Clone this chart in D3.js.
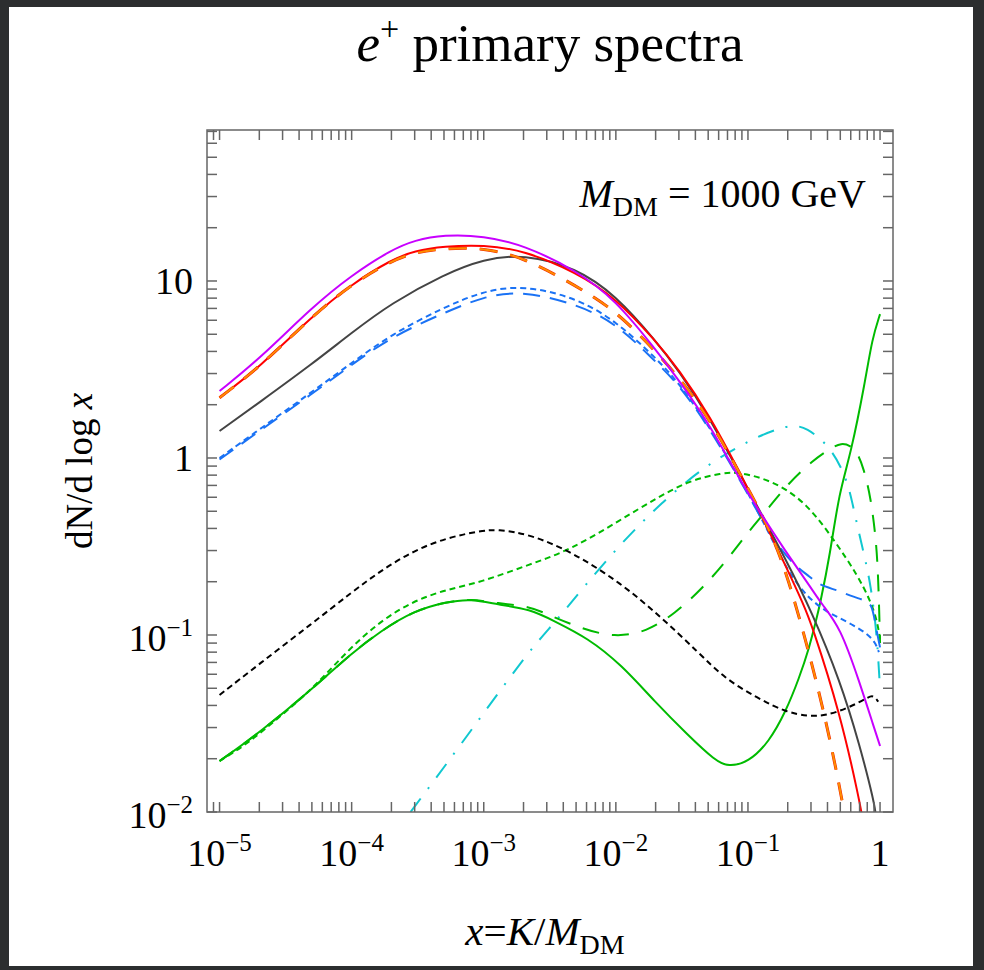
<!DOCTYPE html>
<html>
<head>
<meta charset="utf-8">
<script src="https://cdn.jsdelivr.net/npm/d3@7"></script>
<style>
  body { margin: 0; background: #2c2e2f; }
  svg { display: block; }
</style>
</head>
<body>
<svg id="figure"></svg>
<script>
// ---- data (x = K/M_DM, y = dN/dlog x) ----
const magentaX = [1e-5, 2e-5, 5e-5, 1e-4, 2e-4, 3e-4, 5e-4, 1e-3, 2e-3, 5e-3, 1e-2, 2e-2, 3e-2, 5e-2, 0.1, 0.2, 0.3, 0.36, 0.5, 0.7, 0.9, 1];
const magentaY = [2.39, 3.62, 7.1, 10.8, 15.0, 17.0, 18.25, 18.0, 16.0, 11.5, 7.8, 4.1, 2.75, 1.6, 0.62, 0.285, 0.185, 0.15, 0.111, 0.054, 0.030, 0.0236];

const redX = [1e-5, 2e-5, 5e-5, 1e-4, 2e-4, 3e-4, 5e-4, 1e-3, 2e-3, 5e-3, 1e-2, 2e-2, 3e-2, 5e-2, 0.1, 0.2, 0.265, 0.3, 0.5, 0.7, 0.73];
const redY = [2.19, 3.25, 6.3, 9.6, 13.2, 14.8, 15.7, 16.0, 14.9, 11.2, 8.0, 4.6, 3.15, 1.8, 0.68, 0.233, 0.147, 0.118, 0.036, 0.0115, 0.0095];

const orangeX = [1e-5, 2e-5, 5e-5, 1e-4, 2e-4, 3e-4, 5e-4, 1e-3, 2e-3, 5e-3, 1e-2, 2e-2, 3e-2, 5e-2, 0.1, 0.15, 0.2, 0.3, 0.4, 0.5, 0.54];
const orangeY = [2.19, 3.25, 6.3, 9.6, 13.0, 14.5, 15.3, 15.4, 13.6, 9.4, 6.8, 4.0, 2.85, 1.72, 0.68, 0.377, 0.215, 0.073, 0.030, 0.0133, 0.0095];

const grayX = [1e-5, 2e-5, 5e-5, 1e-4, 2e-4, 5e-4, 1e-3, 2e-3, 5e-3, 1e-2, 2e-2, 3e-2, 5e-2, 0.1, 0.2, 0.3, 0.5, 0.7, 0.9, 0.93];
const grayY = [1.42, 2.06, 3.39, 5.1, 7.5, 10.9, 13.3, 14.2, 11.9, 8.3, 4.6, 3.1, 1.75, 0.67, 0.255, 0.138, 0.055, 0.024, 0.0115, 0.0095];

const blueDotX = [1e-5, 2e-5, 5e-5, 1e-4, 2e-4, 5e-4, 1e-3, 2e-3, 5e-3, 1e-2, 2e-2, 3e-2, 5e-2, 0.1, 0.15, 0.2, 0.26, 0.31, 0.39, 0.5, 0.63, 0.8, 0.92, 0.98];
const blueDotY = [1.0, 1.45, 2.36, 3.44, 5.0, 7.1, 8.8, 9.46, 8.05, 5.94, 3.69, 2.65, 1.55, 0.64, 0.356, 0.23, 0.177, 0.155, 0.136, 0.124, 0.1135, 0.1016, 0.091, 0.08];

const blueDashX = [1e-5, 2e-5, 5e-5, 1e-4, 2e-4, 5e-4, 1e-3, 2e-3, 5e-3, 1e-2, 2e-2, 3e-2, 5e-2, 0.1, 0.15, 0.22, 0.28, 0.35, 0.47, 0.6, 0.75, 0.87, 0.92, 1];
const blueDashY = [0.98, 1.42, 2.3, 3.36, 4.85, 6.6, 8.2, 8.8, 7.4, 5.8, 3.5, 2.6, 1.52, 0.63, 0.356, 0.25, 0.22, 0.19, 0.18, 0.166, 0.158, 0.15, 0.115, 0.085];

const blackDotX = [1e-5, 2e-5, 5e-5, 1e-4, 1.65e-4, 2.95e-4, 5.3e-4, 9.4e-4, 1.26e-3, 2.25e-3, 4.6e-3, 1.1e-2, 2.2e-2, 4.2e-2, 6.6e-2, 0.119, 0.192, 0.29, 0.39, 0.56, 0.8, 0.88, 0.97];
const blackDotY = [0.0458, 0.0686, 0.116, 0.174, 0.23, 0.30, 0.355, 0.387, 0.396, 0.37, 0.296, 0.196, 0.126, 0.08, 0.057, 0.0439, 0.0367, 0.0347, 0.0351, 0.0384, 0.044, 0.046, 0.042];

const greenDotX = [1e-5, 1.62e-5, 2.89e-5, 5.16e-5, 9.2e-5, 1.65e-4, 2.95e-4, 5.27e-4, 9.4e-4, 2.25e-3, 4.56e-3, 1.1e-2, 1.98e-2, 3.56e-2, 6.4e-2, 8.6e-2, 0.154, 0.277, 0.46, 0.67, 0.85, 0.95, 1];
const greenDotY = [0.0194, 0.0242, 0.0348, 0.0503, 0.081, 0.12, 0.156, 0.181, 0.198, 0.251, 0.303, 0.45, 0.586, 0.745, 0.824, 0.832, 0.745, 0.561, 0.335, 0.22, 0.155, 0.12, 0.095];

const greenX = [1e-5, 2e-5, 5e-5, 1e-4, 1.65e-4, 2.95e-4, 5.27e-4, 8e-4, 1.26e-3, 2.25e-3, 3.4e-3, 6.1e-3, 1.1e-2, 1.97e-2, 3.53e-2, 5.65e-2, 7.1e-2, 0.101, 0.144, 0.193, 0.244, 0.291, 0.327, 0.35, 0.42, 0.49, 0.6, 0.773, 0.87, 1];
const greenY = [0.0194, 0.028, 0.0493, 0.079, 0.105, 0.137, 0.154, 0.16, 0.149, 0.14, 0.12, 0.0964, 0.068, 0.042, 0.0271, 0.0195, 0.018, 0.0191, 0.0248, 0.0368, 0.057, 0.0845, 0.12, 0.147, 0.29, 0.64, 1.05, 2.72, 4.7, 6.5];

const greenDashX = [1e-5, 2e-5, 5e-5, 1e-4, 1.65e-4, 2.95e-4, 5.27e-4, 8e-4, 1.26e-3, 2.25e-3, 3.0e-3, 5.6e-3, 9.8e-3, 1.7e-2, 2.8e-2, 4.5e-2, 6.8e-2, 9.9e-2, 0.141, 0.2, 0.31, 0.42, 0.51, 0.6, 0.67, 0.75, 0.85, 0.93, 0.96, 0.98, 1];
const greenDashY = [0.0194, 0.028, 0.0493, 0.079, 0.105, 0.137, 0.154, 0.16, 0.151, 0.145, 0.131, 0.108, 0.097, 0.104, 0.132, 0.183, 0.26, 0.377, 0.514, 0.713, 0.97, 1.13, 1.22, 1.17, 1.08, 0.88, 0.6, 0.35, 0.24, 0.16, 0.09];

const cyanX = [2.79e-4, 4.98e-4, 9.4e-4, 2.25e-3, 3.4e-3, 5.66e-3, 1.1e-2, 2.22e-2, 4.76e-2, 0.108, 0.204, 0.277, 0.43, 0.56, 0.62, 0.68, 0.77, 0.85, 0.92, 0.96, 0.99];
const cyanY = [0.01, 0.0178, 0.034, 0.083, 0.116, 0.185, 0.331, 0.561, 0.907, 1.29, 1.55, 1.5, 1.14, 0.76, 0.55, 0.4, 0.27, 0.19, 0.12, 0.083, 0.056];

// tick labels
const xTickValues = [1e-5, 1e-4, 1e-3, 1e-2, 1e-1, 1];
const xTickExps = ["\u22125", "\u22124", "\u22123", "\u22122", "\u22121", ""];
const yTickValues = [0.01, 0.1, 1, 10];
const yTickBases = ["10", "10", "1", "10"];
const yTickExps = ["\u22122", "\u22121", "", ""];

// ---- layout ----
const W = 984, H = 970;
const frame = {left: 207, right: 893, top: 130, bottom: 812};
const serif = '"Liberation Serif", "Times New Roman", serif';

const svg = d3.select("#figure").attr("width", W).attr("height", H);

svg.append("rect").attr("width", W).attr("height", H).attr("fill", "#2c2e2f");
svg.append("rect").attr("x", 9).attr("y", 7).attr("width", 964).attr("height", 959).attr("fill", "#fff");

const x = d3.scaleLog()
    .domain([Math.pow(10, -5.095), Math.pow(10, 0.098)])
    .range([frame.left, frame.right]);
const y = d3.scaleLog()
    .domain([0.01, Math.pow(10, 1.853)])
    .range([frame.bottom, frame.top]);

svg.append("clipPath").attr("id", "plotClip")
    .append("rect")
    .attr("x", frame.left).attr("y", frame.top)
    .attr("width", frame.right - frame.left).attr("height", frame.bottom - frame.top);

// series: drawn bottom to top
const series = [
    {xs: cyanX, ys: cyanY, color: "#10c8d0", dash: "17,12,2,12", width: 2},
    {xs: greenDashX, ys: greenDashY, color: "#00bb00", dash: "17,13", width: 2},
    {xs: greenDotX, ys: greenDotY, color: "#00bb00", dash: "6,4", width: 2},
    {xs: greenX, ys: greenY, color: "#00bb00", dash: null, width: 2},
    {xs: blackDotX, ys: blackDotY, color: "#000", dash: "6,4", width: 2},
    {xs: blueDashX, ys: blueDashY, color: "#1a72f5", dash: "17,10", width: 2},
    {xs: blueDotX, ys: blueDotY, color: "#1a72f5", dash: "6,4", width: 2},
    {xs: grayX, ys: grayY, color: "#444", dash: null, width: 2},
    {xs: redX, ys: redY, color: "#f00", dash: null, width: 2},
    {xs: orangeX, ys: orangeY, color: "#ee2200", dash: "18,13", width: 3},
    {xs: orangeX, ys: orangeY, color: "#ff8c00", dash: "18,13", width: 2},
    {xs: magentaX, ys: magentaY, color: "#c800ff", dash: null, width: 2}
];

// B-spline through the read points, to smooth out reading noise
const line = d3.line()
    .x(d => x(d[0]))
    .y(d => y(d[1]))
    .curve(d3.curveBasis);

const plot = svg.append("g").attr("clip-path", "url(#plotClip)");
plot.selectAll("path.curve")
    .data(series)
    .enter().append("path")
    .attr("class", "curve")
    .attr("d", s => line(d3.zip(s.xs, s.ys)))
    .attr("fill", "none")
    .attr("stroke", s => s.color)
    .attr("stroke-width", s => s.width)
    .attr("stroke-dasharray", s => s.dash)
    .attr("stroke-linejoin", "round");

// ---- frame & ticks (inward, on all four sides) ----
function logTicks(lo, hi) {
    const out = [];
    for (let e = -7; e <= 2; e++) {
        for (let m = 1; m <= 9; m++) {
            const v = m * Math.pow(10, e);
            if (v >= lo * 0.9999 && v <= hi * 1.0001) out.push({v: v, major: m === 1});
        }
    }
    return out;
}
const tickLen = 10;
const axisColor = "#666";
const ax = svg.append("g").attr("stroke", axisColor).attr("stroke-width", 1.5);

ax.append("rect")
    .attr("x", frame.left).attr("y", frame.top)
    .attr("width", frame.right - frame.left).attr("height", frame.bottom - frame.top)
    .attr("fill", "none");

logTicks(x.domain()[0], x.domain()[1]).forEach(t => {
    const px = x(t.v);
    ax.append("line").attr("x1", px).attr("x2", px).attr("y1", frame.bottom).attr("y2", frame.bottom - tickLen);
    ax.append("line").attr("x1", px).attr("x2", px).attr("y1", frame.top).attr("y2", frame.top + tickLen);
});
logTicks(y.domain()[0], y.domain()[1]).forEach(t => {
    const py = y(t.v);
    ax.append("line").attr("y1", py).attr("y2", py).attr("x1", frame.left).attr("x2", frame.left + tickLen);
    ax.append("line").attr("y1", py).attr("y2", py).attr("x1", frame.right).attr("x2", frame.right - tickLen);
});

// ---- tick labels ----
const labelSize = 38;
xTickValues.forEach((v, i) => {
    const t = svg.append("text")
        .attr("x", x(v)).attr("y", 866)
        .attr("text-anchor", "middle")
        .attr("font-family", serif).attr("font-size", labelSize);
    if (xTickExps[i]) {
        t.append("tspan").text("10");
        t.append("tspan").attr("dy", -15).attr("font-size", 25).text(xTickExps[i]);
    } else {
        t.text("1");
    }
});
yTickValues.forEach((v, i) => {
    const t = svg.append("text")
        .attr("x", 193).attr("y", y(v) + (yTickExps[i] ? 16 : 13))
        .attr("text-anchor", "end")
        .attr("font-family", serif).attr("font-size", labelSize);
    t.append("tspan").text(yTickBases[i]);
    if (yTickExps[i]) {
        t.append("tspan").attr("dy", -15).attr("font-size", 25).text(yTickExps[i]);
    }
});

// ---- titles ----
const title = svg.append("text")
    .attr("x", 550).attr("y", 61)
    .attr("text-anchor", "middle")
    .attr("font-family", serif).attr("font-size", 53);
title.append("tspan").attr("font-style", "italic").text("e");
title.append("tspan").attr("dy", -21).attr("font-size", 34).text("+");
title.append("tspan").attr("dy", 21).text(" primary spectra");

const note = svg.append("text")
    .attr("x", 866).attr("y", 207)
    .attr("text-anchor", "end")
    .attr("font-family", serif).attr("font-size", 40);
note.append("tspan").attr("font-style", "italic").text("M");
note.append("tspan").attr("dy", 9).attr("font-size", 28).text("DM");
note.append("tspan").attr("dy", -9).text(" = 1000 GeV");

const xLabel = svg.append("text")
    .attr("x", 545).attr("y", 945)
    .attr("text-anchor", "middle")
    .attr("font-family", serif).attr("font-size", 41);
xLabel.append("tspan").attr("font-style", "italic").text("x");
xLabel.append("tspan").text("=");
xLabel.append("tspan").attr("font-style", "italic").text("K");
xLabel.append("tspan").text("/");
xLabel.append("tspan").attr("font-style", "italic").text("M");
xLabel.append("tspan").attr("dy", 9).attr("font-size", 28).text("DM");

const yLabel = svg.append("text")
    .attr("transform", "translate(92," + ((frame.top + frame.bottom) / 2) + ") rotate(-90)")
    .attr("text-anchor", "middle")
    .attr("font-family", serif).attr("font-size", 37);
yLabel.append("tspan").text("dN/d log ");
yLabel.append("tspan").attr("font-style", "italic").text("x");
</script>
</body>
</html>
